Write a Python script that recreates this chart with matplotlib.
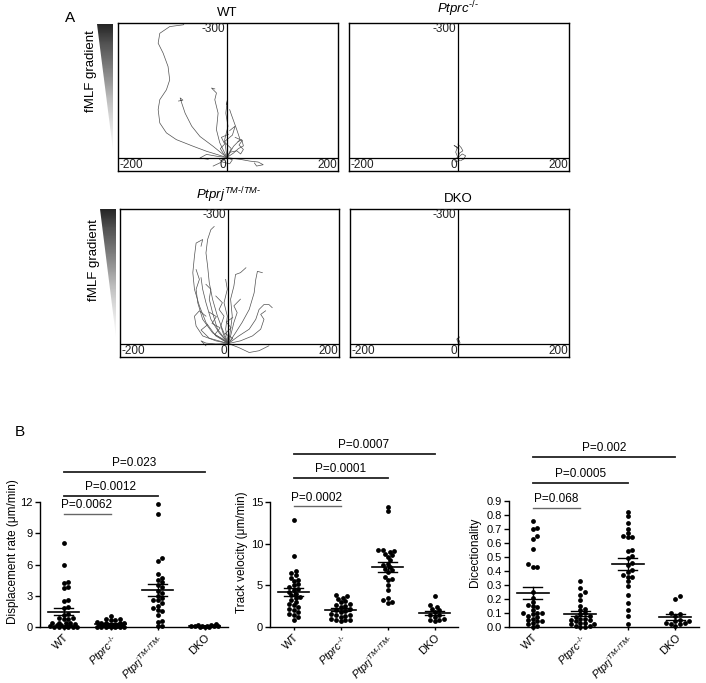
import numpy as np
import matplotlib
matplotlib.use('Agg')
import matplotlib.pyplot as plt
from matplotlib.patches import Polygon

plt.rcParams['font.family'] = 'Liberation Sans'
plt.rcParams['mathtext.fontset'] = 'custom'
plt.rcParams['mathtext.rm'] = 'Liberation Sans'
plt.rcParams['mathtext.it'] = 'Liberation Sans:italic'

# ---- panel A: cell tracks (x, y in um; negative y = up the fMLF gradient)
wt_tracks = [
    [(0, 0), (-37, -14), (-61, -25), (-92, -40), (-110, -55), (-122, -77), (-125, -107),
     (-122, -129), (-110, -151), (-104, -173), (-107, -203), (-116, -233), (-125, -255),
     (-122, -277), (-104, -292), (-79, -296), (-73, -310)],
    [(0, 0), (-25, -25), (-49, -47), (-64, -70), (-76, -99), (-82, -121), (-85, -133),
     (-80, -128), (-88, -126)],
    [(0, 0), (-13, -33), (-19, -62), (-16, -99), (-22, -129), (-19, -144), (-28, -155), (-22, -153)],
    [(0, 0), (-4, -40), (2, -70), (-2, -99), (1, -129), (-1, -118)],
    [(0, 0), (12, -25), (24, -40), (18, -62), (8, -96), (5, -107)],
    [(0, 0), (24, 4), (42, 8), (57, 10), (66, 16), (54, 19), (50, 12)],
    [(0, 0), (-19, -3), (-37, -7), (-49, 1), (-34, 4)],
    [(0, 0), (12, -10), (21, -20), (30, -26), (27, -40), (20, -35)],
    [(0, 0), (-13, 12), (-25, 19)],
    [(0, 0), (8, -20), (-5, -35), (10, -50), (15, -70), (5, -60)],
    [(0, 0), (6, -12), (18, -15), (25, -8), (30, -18), (22, -28), (28, -38), (15, -45)],
    [(0, 0), (-6, -8), (-12, -20), (-4, -30), (-10, -45), (3, -52)],
    [(0, 0), (10, 5), (5, 14), (-8, 10), (-14, 3)],
]
ptprc_tracks = [
    [(0, 0), (-4, -12), (-1, -23), (-7, -27), (2, -19)],
    [(0, 0), (8, -8), (14, -4), (11, 3), (5, 7)],
    [(0, 0), (-7, 3), (-4, 10), (3, 6)],
    [(0, 0), (3, -10), (9, -15), (6, -22), (0, -30)],
]
ptprj_tracks = [
    [(0, 0), (-23, -17), (-41, -47), (-53, -84), (-62, -121), (-65, -158), (-62, -195),
     (-59, -224), (-47, -232), (-50, -217)],
    [(0, 0), (-11, -32), (-20, -61), (-29, -99), (-35, -136), (-38, -173), (-41, -202),
     (-38, -232), (-32, -254), (-26, -261)],
    [(0, 0), (-17, -24), (-32, -54), (-41, -91), (-47, -121), (-50, -147)],
    [(0, 0), (-23, -6), (-47, -17), (-59, -39), (-62, -61), (-53, -73), (-41, -61)],
    [(0, 0), (-23, 1), (-41, -1), (-50, -6), (-41, 5)],
    [(0, 0), (4, -32), (7, -61), (4, -99), (10, -128), (13, -154), (22, -158), (32, -169)],
    [(0, 0), (13, -24), (25, -47), (38, -76), (47, -113), (50, -143), (53, -161), (62, -158)],
    [(0, 0), (19, -17), (38, -32), (50, -54), (56, -76), (65, -87), (74, -87), (80, -80)],
    [(0, 0), (22, -6), (44, -17), (59, -32), (65, -54), (59, -65), (68, -73)],
    [(0, 0), (19, 9), (38, 20), (56, 16), (74, 5)],
    [(0, 0), (4, -17), (10, -47), (16, -69), (10, -84), (22, -99)],
    [(0, 0), (-8, -17), (-14, -39), (-8, -61), (-17, -76), (-11, -91), (-23, -106)],
    [(0, 0), (-29, -24), (-47, -54), (-56, -91), (-59, -121), (-53, -143), (-59, -165)],
    [(0, 0), (-5, -32), (-2, -61), (-8, -91), (-2, -121), (-5, -143)],
    [(0, 0), (-20, -32), (-29, -69), (-35, -99), (-32, -121), (-41, -132)],
    [(0, 0), (-10, -10), (-25, -20), (-15, -35), (-30, -45), (-22, -60), (-35, -70)],
    [(0, 0), (8, -12), (-6, -22), (5, -35), (-4, -48), (8, -58)],
    [(0, 0), (-35, -12), (-50, -30), (-38, -42)],
]
dko_tracks = [
    [(0, 0), (-3, -10), (2, -15), (-1, -8), (3, -2), (1, 5)],
    [(0, 0), (2, -6), (-2, -12), (1, -4)],
]

# ---- panel B: per-cell measurements
HY = '\u2010'
groups = ['WT', r'$Ptprc^{%s/%s}$' % (HY, HY),
          r'$Ptprj^{TM%s/TM%s}$' % (HY, HY), 'DKO']

disp_wt = [8.1, 6.0, 4.3, 4.2, 3.8, 3.7, 2.6, 2.5, 1.9, 1.8, 1.25, 1.2, 0.9, 0.85, 0.8,
           0.75, 0.4, 0.4, 0.35, 0.35, 0.3, 0.05, 0.05, 0.0, 0.0, 0.0, 0.0, 0.0, 0.0,
           0.15, 0.15, 0.2]
disp_ptprc = [1.1, 0.8, 0.75, 0.7, 0.7, 0.45, 0.4, 0.4, 0.35, 0.35, 0.2, 0.2, 0.15,
              0.15, 0.15, 0.1, 0.05, 0.05, 0.0, 0.0, 0.0, 0.0, 0.0, 0.0, 0.0]
disp_ptprj = [11.8, 10.9, 6.6, 6.3, 5.1, 4.7, 4.5, 4.3, 4.0, 3.8, 3.5, 3.3, 3.0, 2.8,
              2.6, 2.6, 2.3, 2.0, 1.8, 1.6, 1.5, 1.2, 0.6, 0.5, 0.1, 0.05]
disp_dko = [0.25, 0.2, 0.15, 0.1, 0.1, 0.1, 0.05, 0.05, 0.05, 0, 0, 0]

vel_wt = [12.9, 8.5, 6.7, 6.5, 6.2, 5.9, 5.7, 5.5, 5.2, 5.0, 4.8, 4.6, 4.5, 4.2, 4.0,
          3.8, 3.6, 3.5, 3.3, 3.0, 2.8, 2.6, 2.4, 2.2, 2.1, 1.8, 1.6, 1.5, 1.2, 0.9]
vel_ptprc = [3.8, 3.7, 3.5, 3.4, 3.1, 3.0, 2.8, 2.6, 2.5, 2.4, 2.2, 2.0, 1.9, 1.8, 1.6,
             1.5, 1.4, 1.3, 1.2, 1.0, 0.9, 0.8, 0.8, 0.7]
vel_ptprj = [14.4, 13.9, 9.3, 9.2, 9.1, 9.0, 8.8, 8.6, 8.4, 8.0, 7.6, 7.4, 7.2, 7.0, 6.8,
             6.6, 6.0, 5.8, 5.6, 5.0, 4.5, 3.5, 3.2, 3.0, 2.9]
vel_dko = [3.7, 2.6, 2.4, 2.2, 2.0, 1.8, 1.5, 1.4, 1.2, 1.0, 0.9, 0.8, 0.7]

dir_wt = [0.76, 0.71, 0.70, 0.65, 0.63, 0.56, 0.45, 0.43, 0.43, 0.25, 0.21, 0.18, 0.16,
          0.15, 0.14, 0.12, 0.10, 0.10, 0.10, 0.09, 0.08, 0.07, 0.06, 0.05, 0.04, 0.04,
          0.03, 0.02, 0.01, 0.0]
dir_ptprc = [0.33, 0.28, 0.25, 0.23, 0.19, 0.15, 0.13, 0.12, 0.10, 0.09, 0.08, 0.07, 0.06,
             0.06, 0.05, 0.05, 0.04, 0.03, 0.03, 0.02, 0.02, 0.01, 0.01, 0.0, 0.0]
dir_ptprj = [0.82, 0.79, 0.74, 0.70, 0.67, 0.65, 0.64, 0.64, 0.55, 0.54, 0.51, 0.49, 0.46,
             0.44, 0.41, 0.39, 0.37, 0.36, 0.36, 0.33, 0.29, 0.23, 0.17, 0.12, 0.08, 0.02]
dir_dko = [0.22, 0.20, 0.10, 0.09, 0.08, 0.05, 0.04, 0.04, 0.03, 0.03, 0.02, 0.02, 0.01]

disp_p = ['P=0.0062', 'P=0.0012', 'P=0.023']
vel_p = ['P=0.0002', 'P=0.0001', 'P=0.0007']
dir_p = ['P=0.068', 'P=0.0005', 'P=0.002']

W, H = 706, 683
fig = plt.figure(figsize=(W / 100, H / 100), dpi=100)


def box(l, t, w, h):
    return [l / W, 1 - (t + h) / H, w / W, h / H]


def track_panel(rect, tracks, title):
    ax = fig.add_axes(box(*rect))
    for tr in tracks:
        tr = np.array(tr)
        ax.plot(tr[:, 0], tr[:, 1], color='#505050', lw=0.5)
    ax.axhline(0, color='k', lw=0.9)
    ax.axvline(0, color='k', lw=0.9)
    ax.set_xlim(-198, 202)
    ax.set_ylim(30, -300)
    ax.set_xticks([])
    ax.set_yticks([])
    for s in ax.spines.values():
        s.set_linewidth(1.0)
    kw = dict(fontsize=8.5, color='#222')
    ax.text(-4, -299, '-300', ha='right', va='top', **kw)
    ax.text(-196, 30, '-200', ha='left', va='bottom', **kw)
    ax.text(-2, 30, '0', ha='right', va='bottom', **kw)
    ax.text(200, 30, '200', ha='right', va='bottom', **kw)
    ax.text(0, 1.03, title, transform=ax.get_xaxis_transform(),
            ha='center', va='bottom', fontsize=9.5)
    return ax


def gradient(l, t, w, h, text_x, text_y):
    gax = fig.add_axes(box(l, t, w, h))
    g = np.linspace(0, 1, 200).reshape(-1, 1)
    im = gax.imshow(g, cmap='Greys_r', vmin=-0.15, vmax=1.05, aspect='auto',
                    extent=[0, 1, 0, 1], origin='upper')
    tri = Polygon([(0, 1), (1, 1), (1, 0)], closed=True, transform=gax.transAxes)
    im.set_clip_path(tri)
    gax.axis('off')
    fig.text(text_x / W, 1 - text_y / H, 'fMLF gradient', rotation=90,
             ha='center', va='center', fontsize=9.5)


track_panel((118, 23, 220, 148), wt_tracks, 'WT')
track_panel((349, 23, 220, 148), ptprc_tracks, r'$Ptprc^{%s/%s}$' % (HY, HY))
track_panel((120, 209, 219, 148), ptprj_tracks, r'$Ptprj^{TM%s/TM%s}$' % (HY, HY))
track_panel((350, 209, 219, 148), dko_tracks, 'DKO')
gradient(97, 24, 16, 126, 91, 71)
gradient(100, 209, 16, 128, 94, 260)
fig.text(70 / W, 1 - 18 / H, 'A', fontsize=11, ha='center', va='center')
fig.text(20 / W, 1 - 432 / H, 'B', fontsize=11, ha='center', va='center')


def swarm(vals, px_y, d_px=4.6, cap_px=15.5, px_cat=47.0):
    # beeswarm kept within +-cap_px; dots may overlap a little when crowded
    vals = np.asarray(vals, float)
    order = np.argsort(vals)
    placed = []
    xs = np.zeros(len(vals))
    steps = [0.0]
    k = 1
    while k * d_px / 2 <= cap_px:
        steps += [k * d_px / 2, -k * d_px / 2]
        k += 1
    for i in order:
        y = vals[i] * px_y
        best, best_d = 0.0, -1
        for off in steps:
            dmin = min([np.hypot(off - px, y - py) for px, py in placed] or [99])
            if dmin >= 0.85 * d_px:
                best = off
                break
            if dmin > best_d:
                best, best_d = off, dmin
        placed.append((best, y))
        xs[i] = best / px_cat
    return xs


def dot_panel(rect, data, ymax, ticks, fmt, ylabel, lab_x, pvals, p_y):
    ax = fig.add_axes(box(*rect))
    px_y = rect[3] / ymax
    for j, vals in enumerate(data):
        vals = np.asarray(vals, float)
        xs = j + swarm(vals, px_y)
        ax.scatter(xs, vals, s=12, color='k', lw=0, clip_on=False, zorder=3)
        m = vals.mean()
        sem = vals.std(ddof=1) / np.sqrt(len(vals))
        ax.plot([j - 0.34, j + 0.34], [m, m], color='k', lw=1.2, zorder=4)
        ax.plot([j - 0.2, j + 0.2], [m + sem, m + sem], color='k', lw=1.0, zorder=4)
        ax.plot([j - 0.2, j + 0.2], [m - sem, m - sem], color='k', lw=1.0, zorder=4)
        ax.plot([j, j], [m - sem, m + sem], color='k', lw=1.0, zorder=4)
    ax.set_xlim(-0.5, 3.5)
    ax.set_ylim(0, ymax)
    for k, (p, y) in enumerate(zip(pvals, p_y)):
        col = '#666' if k == 0 else '#222'
        ax.plot([0, k + 1], [y, y], color=col, lw=1.0 if k == 0 else 1.3, clip_on=False)
        ax.text((k + 1) / 2, y + ymax * 0.015, p, ha='center', va='bottom', fontsize=8.5)
    ax.spines['top'].set_visible(False)
    ax.spines['right'].set_visible(False)
    ax.spines['left'].set_bounds(0, ticks[-1])
    ax.spines['left'].set_linewidth(1.0)
    ax.spines['bottom'].set_linewidth(1.0)
    ax.set_yticks(ticks)
    ax.set_yticklabels([fmt.format(t) for t in ticks], fontsize=8)
    ax.tick_params(axis='y', length=3.5, width=1.0, pad=1.5)
    ax.set_xticks(range(4))
    ax.set_xticklabels(groups, rotation=45, ha='right', rotation_mode='anchor', fontsize=8)
    ax.tick_params(axis='x', length=2.5, width=1.0, pad=1.5)
    fig.text(lab_x / W, 1 - 552 / H, ylabel, rotation=90, ha='center', va='center', fontsize=8.5)
    return ax


dot_panel((40, 450, 188, 177), [disp_wt, disp_ptprc, disp_ptprj, disp_dko], 17.0,
          [0, 3, 6, 9, 12], '{:g}', u'Displacement rate (\u03bcm/min)', 13,
          disp_p, [10.85, 12.57, 14.88])
dot_panel((270, 450, 188, 177), [vel_wt, vel_ptprc, vel_ptprj, vel_dko], 21.25,
          [0, 5, 10, 15], '{:g}', u'Track velocity (\u03bcm/min)', 242,
          vel_p, [14.5, 17.9, 20.8])
dot_panel((509, 450, 190, 177), [dir_wt, dir_ptprc, dir_ptprj, dir_dko], 1.264,
          [0.0, 0.1, 0.2, 0.3, 0.4, 0.5, 0.6, 0.7, 0.8, 0.9], '{:.1f}', 'Dicectionality', 475,
          dir_p, [0.85, 1.03, 1.214])

fig.savefig('out.png', dpi=100)
